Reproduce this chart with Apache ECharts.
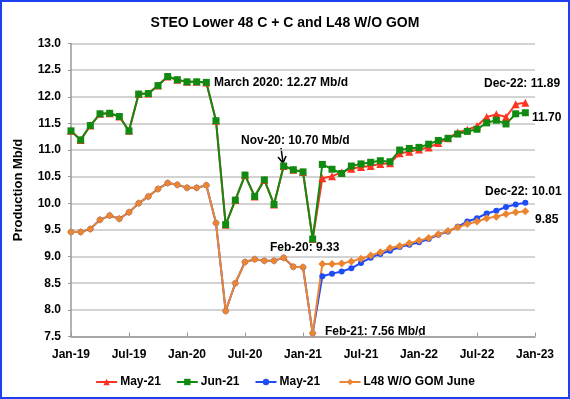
<!DOCTYPE html>
<html>
<head>
<meta charset="utf-8">
<script src="https://cdn.jsdelivr.net/npm/echarts@6/dist/echarts.min.js"></script>
<style>
  html, body { margin: 0; padding: 0; background: #fff; }
  #chart { width: 566px; height: 395px; border: 2px solid #1f40f0; }
</style>
</head>
<body>
<div id="chart"></div>
<script>
// months Jan-19 .. Dec-22 as index 0..47
const tickLabels = ['Jan-19', 'Jul-19', 'Jan-20', 'Jul-20', 'Jan-21', 'Jul-21', 'Jan-22', 'Jul-22', 'Jan-23'];

// history Jan-19 .. Feb-21 (shared by both STEO runs)
const l48Hist = [11.36, 11.19, 11.46, 11.68, 11.69, 11.63, 11.36, 12.05, 12.06, 12.21, 12.38, 12.32,
  12.28, 12.28, 12.27, 11.55, 9.60, 10.06, 10.53, 10.13, 10.44, 9.98, 10.70, 10.63,
  10.59, 9.33];
const woGomHist = [9.46, 9.46, 9.52, 9.69, 9.77, 9.71, 9.83, 10.00, 10.13, 10.27, 10.38, 10.35,
  10.29, 10.29, 10.34, 9.63, 7.98, 8.50, 8.90, 8.95, 8.92, 8.92, 8.98, 8.81,
  8.80, 7.56];

// forecasts Mar-21 .. Dec-22
const l48May = [10.47, 10.51, 10.58, 10.65, 10.68, 10.70, 10.74, 10.75, 10.94, 10.97,
  11.01, 11.05, 11.13, 11.22, 11.33, 11.38, 11.45, 11.62, 11.67, 11.62, 11.86, 11.89];
const l48Jun = [10.73, 10.64, 10.56, 10.70, 10.74, 10.77, 10.80, 10.78, 11.00, 11.03,
  11.05, 11.11, 11.18, 11.22, 11.30, 11.35, 11.39, 11.51, 11.56, 11.49, 11.68, 11.70];
const woGomMay = [8.63, 8.68, 8.72, 8.78, 8.88, 8.98, 9.05, 9.11, 9.18, 9.22,
  9.27, 9.33, 9.41, 9.47, 9.56, 9.66, 9.72, 9.81, 9.86, 9.93, 9.98, 10.01];
const woGomJun = [8.86, 8.86, 8.87, 8.91, 8.96, 9.02, 9.08, 9.16, 9.20, 9.25,
  9.30, 9.35, 9.42, 9.48, 9.55, 9.61, 9.66, 9.72, 9.75, 9.80, 9.83, 9.85];

const toPairs = arr => arr.map((v, i) => [i, v]);
const font = 'Liberation Sans, Arial, sans-serif';

const chart = echarts.init(document.getElementById('chart'));

function line(name, color, symbol, size, values) {
  return {
    name: name,
    type: 'line',
    data: toPairs(values),
    symbol: symbol,
    symbolSize: size,
    showSymbol: true,
    animation: false,
    lineStyle: { color: color, width: 2 },
    itemStyle: { color: color },
    emphasis: { disabled: true }
  };
}

function label(text, x, y) {
  return {
    type: 'text', left: x, top: y,
    style: { text: text, font: 'bold 12px ' + font, fill: '#000' }
  };
}

chart.setOption({
  backgroundColor: '#fff',
  title: {
    text: 'STEO Lower 48 C + C and L48 W/O GOM',
    left: 'center', top: 9,
    textStyle: { fontFamily: font, fontSize: 14, fontWeight: 'bold', color: '#000' }
  },
  grid: { left: 69, right: 33, top: 41.5, bottom: 60.5 },
  legend: {
    bottom: 4, left: 'center',
    itemWidth: 21, itemHeight: 8, itemGap: 15,
    textStyle: { fontFamily: font, fontSize: 12, fontWeight: 'bold', color: '#000', padding: [0, 0, 0, -2] },
    data: ['May-21', 'Jun-21', 'May-21 ', 'L48 W/O GOM June']
  },
  xAxis: {
    type: 'value', min: 0, max: 48, interval: 6,
    axisLine: { lineStyle: { color: '#999', width: 1.5 } },
    axisTick: { inside: true, length: 4, lineStyle: { color: '#999' } },
    splitLine: { show: false },
    axisLabel: {
      margin: 12, color: '#000', fontFamily: font, fontSize: 12, fontWeight: 'bold',
      formatter: v => tickLabels[v / 6] || ''
    }
  },
  yAxis: {
    type: 'value', min: 7.5, max: 13, interval: 0.5,
    name: 'Production Mb/d', nameLocation: 'middle', nameGap: 46,
    nameTextStyle: { fontFamily: font, fontSize: 13, fontWeight: 'bold', color: '#000' },
    axisLine: { show: true, lineStyle: { color: '#999', width: 1.5 } },
    axisTick: { show: true, inside: false, length: 3, lineStyle: { color: '#999' } },
    splitLine: { lineStyle: { color: '#c4c4c4', width: 1.5 } },
    axisLabel: {
      margin: 10, color: '#000', fontFamily: font, fontSize: 12, fontWeight: 'bold',
      formatter: v => v.toFixed(1)
    }
  },
  series: [
    line('May-21', '#ff3322', 'triangle', 8, l48Hist.concat(l48May)),
    line('Jun-21', '#118a11', 'rect', 7, l48Hist.concat(l48Jun)),
    line('May-21 ', '#1f4cf5', 'circle', 6, woGomHist.concat(woGomMay)),
    line('L48 W/O GOM June', '#ec8530', 'diamond', 8, woGomHist.concat(woGomJun))
  ],
  graphic: [
    label('March 2020: 12.27 Mb/d', 212, 75),
    label('Nov-20: 10.70 Mb/d', 239, 133),
    label('Feb-20: 9.33', 268, 240),
    label('Feb-21: 7.56 Mb/d', 323, 324),
    label('Dec-22: 11.89', 482, 76),
    label('11.70', 530, 110),
    label('Dec-22: 10.01', 483, 184),
    label('9.85', 533, 212),
    {
      type: 'line', shape: { x1: 279, y1: 146, x2: 281, y2: 160 },
      style: { stroke: '#000', lineWidth: 1.5 }
    },
    {
      type: 'polyline', shape: { points: [[276, 155], [281, 161], [284, 154]] },
      style: { stroke: '#000', lineWidth: 1.5, fill: null }
    }
  ]
});
</script>
</body>
</html>
